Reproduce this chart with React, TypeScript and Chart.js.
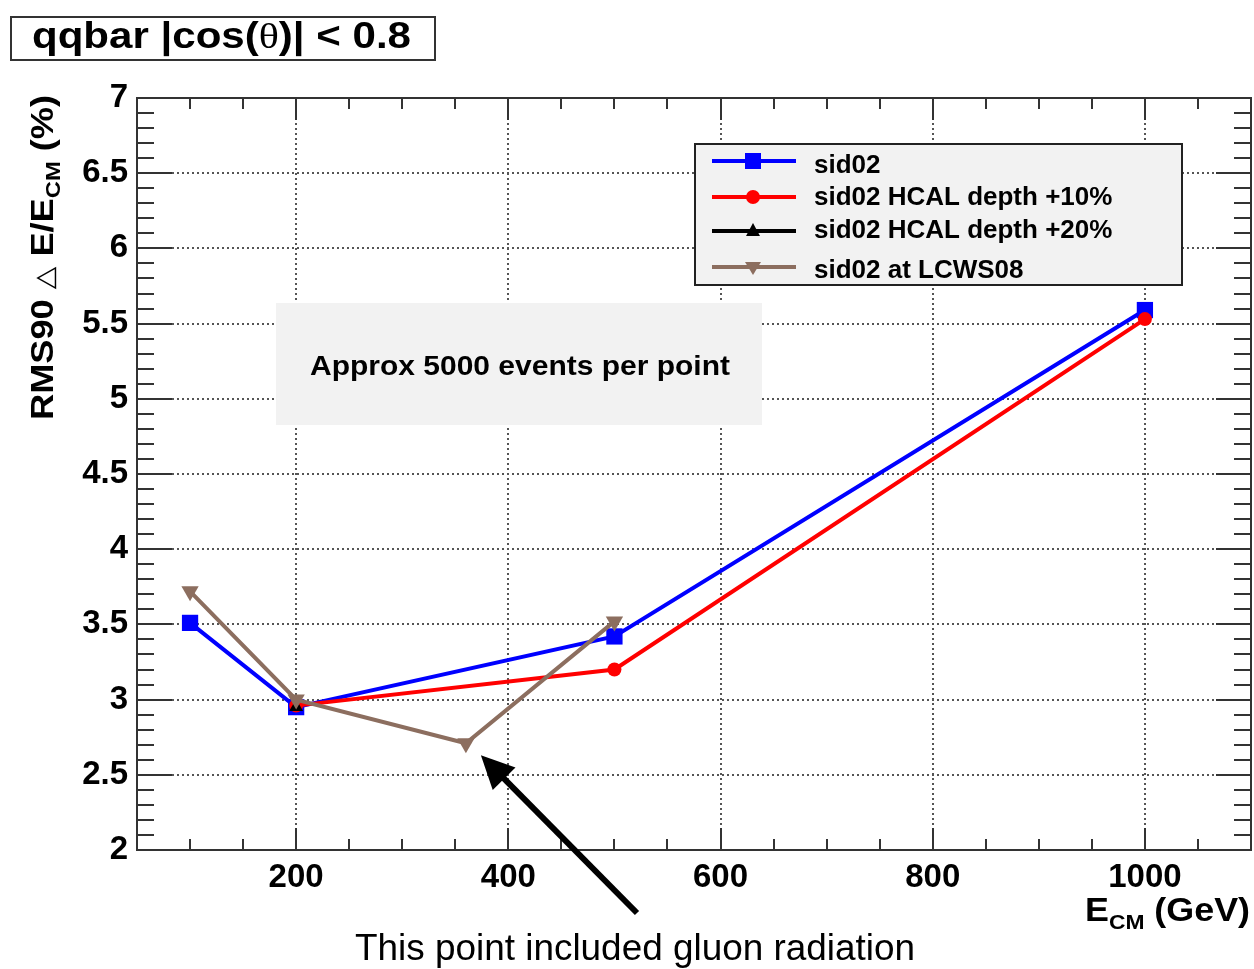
import React, { useEffect, useRef } from 'react';
import { Chart, registerables } from 'chart.js';

Chart.register(...registerables);

const SERIES_LABELS = ['sid02', 'sid02 HCAL depth +10%', 'sid02 HCAL depth +20%', 'sid02 at LCWS08'];
const SID02_E = [100, 200, 500, 1000];
const SID02_RES = [3.51, 2.95, 3.42, 5.59];
const HCAL10_E = [200, 500, 1000];
const HCAL10_RES = [2.96, 3.2, 5.53];
const HCAL20_E = [200];
const HCAL20_RES = [2.95];
const LCWS08_E = [100, 200, 360, 500];
const LCWS08_RES = [3.72, 3.0, 2.71, 3.52];
const X_TICKS = [200, 400, 600, 800, 1000];
const Y_TICKS = [2, 2.5, 3, 3.5, 4, 4.5, 5, 5.5, 6, 6.5, 7];
const X_MIN = 50;
const X_MAX = 1100;
const Y_MIN = 2;
const Y_MAX = 7;
const X_MINOR_STEP = 50;
const Y_MINOR_STEP = 0.1;
const TITLE_PARTS = ['qqbar |cos(', 'θ', ')| < 0.8'];
const NOTE = 'Approx 5000 events per point';
const ANNOTATION = 'This point included gluon radiation';
const ANNOTATED_INDEX = 2; // LCWS08 point at 360 GeV

const FONT = '"Liberation Sans", Arial, Helvetica, sans-serif';
const COLORS = ['#0000ff', '#ff0000', '#000000', '#8c6e5f'];
const SHAPES = ['rect', 'circle', 'triangle', 'triangleDown'];

type Seg = { text: string; font: string; dy?: number };

function drawRich(ctx: CanvasRenderingContext2D, segs: Seg[], x: number, y: number, width: number, align: 'left' | 'right' | 'center') {
  ctx.save();
  let total = 0;
  const ws = segs.map((s) => {
    ctx.font = s.font;
    const w = ctx.measureText(s.text).width;
    total += w;
    return w;
  });
  const k = width ? width / total : 1;
  ctx.translate(x, y);
  ctx.scale(k, 1);
  let cx = align === 'left' ? 0 : align === 'right' ? -total : -total / 2;
  ctx.textAlign = 'left';
  ctx.textBaseline = 'alphabetic';
  segs.forEach((s, i) => {
    ctx.font = s.font;
    ctx.fillText(s.text, cx, s.dy || 0);
    cx += ws[i];
  });
  ctx.restore();
}

function drawMarker(ctx: CanvasRenderingContext2D, shape: string, x: number, y: number, color: string) {
  ctx.save();
  ctx.fillStyle = color;
  ctx.beginPath();
  if (shape === 'rect') {
    ctx.rect(x - 8, y - 8, 16, 16);
  } else if (shape === 'circle') {
    ctx.arc(x, y, 7, 0, Math.PI * 2);
  } else if (shape === 'triangle') {
    ctx.moveTo(x, y - 8);
    ctx.lineTo(x + 7, y + 5);
    ctx.lineTo(x - 7, y + 5);
    ctx.closePath();
  } else {
    ctx.moveTo(x, y + 8);
    ctx.lineTo(x + 8, y - 5);
    ctx.lineTo(x - 8, y - 5);
    ctx.closePath();
  }
  ctx.fill();
  ctx.restore();
}

const rootPlugin = {
  id: 'rootStyle',
  beforeDatasetsDraw(chart: any) {
    const { ctx, chartArea: a } = chart;
    const xs = chart.scales.x;
    const ys = chart.scales.y;
    ctx.save();
    // dotted grid at major ticks
    ctx.strokeStyle = '#555';
    ctx.lineWidth = 2;
    ctx.setLineDash([2, 3]);
    xs.ticks.forEach((t: any) => {
      const px = Math.round(xs.getPixelForValue(t.value));
      ctx.beginPath();
      ctx.moveTo(px, a.top);
      ctx.lineTo(px, a.bottom);
      ctx.stroke();
    });
    ys.ticks.forEach((t: any) => {
      const py = Math.round(ys.getPixelForValue(t.value));
      ctx.beginPath();
      ctx.moveTo(a.left, py);
      ctx.lineTo(a.right, py);
      ctx.stroke();
    });
    ctx.setLineDash([]);
    // note box
    ctx.fillStyle = '#f2f2f2';
    ctx.fillRect(276, 303, 486, 122);
    ctx.fillStyle = '#000';
    drawRich(ctx, [{ text: NOTE, font: `bold 28px ${FONT}` }], 520, 375, 420, 'center');
    ctx.restore();
  },
  afterDatasetsDraw(chart: any) {
    const { ctx, chartArea: a } = chart;
    const xs = chart.scales.x;
    const ys = chart.scales.y;
    ctx.save();
    // legend
    ctx.fillStyle = '#f2f2f2';
    ctx.fillRect(695, 144, 487, 141);
    ctx.strokeStyle = '#222';
    ctx.lineWidth = 2;
    ctx.strokeRect(695, 144, 487, 141);
    const rowY = [161, 197, 231, 267];
    const baseY = [173, 205, 238, 278];
    chart.data.datasets.forEach((ds: any, i: number) => {
      ctx.strokeStyle = ds.borderColor;
      ctx.lineWidth = ds.borderWidth;
      ctx.beginPath();
      ctx.moveTo(712, rowY[i]);
      ctx.lineTo(796, rowY[i]);
      ctx.stroke();
      drawMarker(ctx, SHAPES[i], 753, rowY[i], ds.borderColor);
      ctx.fillStyle = '#000';
      ctx.font = `bold 26px ${FONT}`;
      ctx.textAlign = 'left';
      ctx.textBaseline = 'alphabetic';
      ctx.fillText(ds.label, 814, baseY[i]);
    });
    // frame
    ctx.strokeStyle = '#333';
    ctx.lineWidth = 2;
    ctx.strokeRect(a.left, a.top, a.right - a.left, a.bottom - a.top);
    // ticks
    ctx.lineWidth = 2;
    for (let v = X_MIN; v <= X_MAX + 1e-6; v += X_MINOR_STEP) {
      const major = X_TICKS.includes(v);
      const len = major ? 22 : 11;
      const px = Math.round(xs.getPixelForValue(v));
      ctx.beginPath();
      ctx.moveTo(px, a.bottom);
      ctx.lineTo(px, a.bottom - len);
      ctx.moveTo(px, a.top);
      ctx.lineTo(px, a.top + len);
      ctx.stroke();
    }
    const nY = Math.round((Y_MAX - Y_MIN) / Y_MINOR_STEP);
    for (let i = 0; i <= nY; i++) {
      const v = Y_MIN + i * Y_MINOR_STEP;
      const major = i % 5 === 0;
      const len = major ? 35 : 17;
      const py = Math.round(ys.getPixelForValue(v));
      ctx.beginPath();
      ctx.moveTo(a.left, py);
      ctx.lineTo(a.left + len, py);
      ctx.moveTo(a.right, py);
      ctx.lineTo(a.right - len, py);
      ctx.stroke();
    }
    ctx.restore();
  },
  afterDraw(chart: any) {
    const { ctx } = chart;
    const xs = chart.scales.x;
    const ys = chart.scales.y;
    ctx.save();
    // title box
    ctx.strokeStyle = '#333';
    ctx.lineWidth = 2;
    ctx.strokeRect(11, 17, 424, 43);
    ctx.fillStyle = '#000';
    drawRich(
      ctx,
      [
        { text: TITLE_PARTS[0], font: `bold 36px ${FONT}` },
        { text: TITLE_PARTS[1], font: `36px "Liberation Serif", "Times New Roman", serif` },
        { text: TITLE_PARTS[2], font: `bold 36px ${FONT}` },
      ],
      32,
      48,
      379,
      'left'
    );
    // y title
    ctx.save();
    ctx.translate(53, 420);
    ctx.rotate(-Math.PI / 2);
    drawRich(
      ctx,
      [
        { text: 'RMS90 ', font: `bold 32px ${FONT}` },
        { text: '△', font: `26px "DejaVu Sans", sans-serif` },
        { text: ' E/E', font: `bold 32px ${FONT}` },
        { text: 'CM', font: `bold 21px ${FONT}`, dy: 7 },
        { text: ' (%)', font: `bold 32px ${FONT}` },
      ],
      0,
      0,
      325,
      'left'
    );
    ctx.restore();
    // x title
    drawRich(
      ctx,
      [
        { text: 'E', font: `bold 33px ${FONT}` },
        { text: 'CM', font: `bold 21px ${FONT}`, dy: 8 },
        { text: ' (GeV)', font: `bold 33px ${FONT}` },
      ],
      1250,
      921,
      165,
      'right'
    );
    // arrow
    const px = xs.getPixelForValue(LCWS08_E[ANNOTATED_INDEX]);
    const py = ys.getPixelForValue(LCWS08_RES[ANNOTATED_INDEX]);
    const tipX = px + 15;
    const tipY = py + 12;
    const tailX = 637;
    const tailY = 913;
    const dx = tipX - tailX;
    const dy = tipY - tailY;
    const L = Math.hypot(dx, dy);
    const ux = dx / L;
    const uy = dy / L;
    const headLen = 33;
    const halfW = 16;
    const bx = tipX - ux * headLen;
    const by = tipY - uy * headLen;
    ctx.strokeStyle = '#000';
    ctx.lineWidth = 6;
    ctx.beginPath();
    ctx.moveTo(tailX, tailY);
    ctx.lineTo(bx + ux * 5, by + uy * 5);
    ctx.stroke();
    ctx.fillStyle = '#000';
    ctx.beginPath();
    ctx.moveTo(tipX, tipY);
    ctx.lineTo(bx - uy * halfW, by + ux * halfW);
    ctx.lineTo(bx + uy * halfW, by - ux * halfW);
    ctx.closePath();
    ctx.fill();
    // annotation text
    drawRich(ctx, [{ text: ANNOTATION, font: `36px ${FONT}` }], 635, 960, 560, 'center');
    ctx.restore();
  },
};

function toPoints(xs: number[], ys: number[]) {
  return xs.map((x, i) => ({ x, y: ys[i] }));
}

export default function App() {
  const ref = useRef<HTMLCanvasElement>(null);
  useEffect(() => {
    document.body.style.margin = '0';
    const canvas = ref.current;
    if (!canvas) return;
    const tickFont = { family: FONT, size: 33, weight: 'bold' as const };
    const chart = new Chart(canvas, {
      type: 'scatter',
      data: {
        datasets: [
          {
            label: SERIES_LABELS[0],
            data: toPoints(SID02_E, SID02_RES),
            showLine: true,
            borderColor: COLORS[0],
            backgroundColor: COLORS[0],
            borderWidth: 4,
            pointStyle: 'rect',
            pointRadius: 11.5,
            pointBorderWidth: 0,
            order: 4,
          },
          {
            label: SERIES_LABELS[1],
            data: toPoints(HCAL10_E, HCAL10_RES),
            showLine: true,
            borderColor: COLORS[1],
            backgroundColor: COLORS[1],
            borderWidth: 4,
            pointStyle: 'circle',
            pointRadius: 7,
            pointBorderWidth: 0,
            order: 3,
          },
          {
            label: SERIES_LABELS[2],
            data: toPoints(HCAL20_E, HCAL20_RES),
            showLine: true,
            borderColor: COLORS[2],
            backgroundColor: COLORS[2],
            borderWidth: 4,
            pointStyle: 'triangle',
            pointRadius: 8,
            pointBorderWidth: 0,
            order: 2,
          },
          {
            label: SERIES_LABELS[3],
            data: toPoints(LCWS08_E, LCWS08_RES),
            showLine: true,
            borderColor: COLORS[3],
            backgroundColor: COLORS[3],
            borderWidth: 4,
            pointStyle: 'triangle',
            pointRotation: 180,
            pointRadius: 10,
            pointBorderWidth: 0,
            order: 1,
          },
        ],
      },
      options: {
        animation: false,
        responsive: false,
        devicePixelRatio: 1,
        layout: { autoPadding: false, padding: { top: 98, right: 3, left: 0, bottom: 0 } },
        plugins: { legend: { display: false }, tooltip: { enabled: false } },
        scales: {
          x: {
            type: 'linear',
            min: X_MIN,
            max: X_MAX,
            afterBuildTicks: (s: any) => {
              s.ticks = X_TICKS.map((v) => ({ value: v }));
            },
            afterFit: (s: any) => {
              s.height = 119;
              s.paddingLeft = 0;
              s.paddingRight = 0;
            },
            grid: { display: false, drawTicks: false },
            border: { display: false },
            ticks: {
              font: tickFont,
              color: '#000',
              padding: 8,
              maxRotation: 0,
              autoSkip: false,
              callback: (v: any) => String(v),
            },
          },
          y: {
            type: 'linear',
            min: Y_MIN,
            max: Y_MAX,
            afterBuildTicks: (s: any) => {
              s.ticks = Y_TICKS.map((v) => ({ value: v }));
            },
            afterFit: (s: any) => {
              s.width = 137;
              s.paddingTop = 0;
              s.paddingBottom = 0;
            },
            grid: { display: false, drawTicks: false },
            border: { display: false },
            ticks: {
              font: tickFont,
              color: '#000',
              padding: 9,
              autoSkip: false,
              callback: (v: any) => String(v),
            },
          },
        },
      },
      plugins: [rootPlugin],
    });
    return () => chart.destroy();
  }, []);
  return <canvas ref={ref} width={1254} height={969} style={{ display: 'block', width: 1254, height: 969 }} />;
}
